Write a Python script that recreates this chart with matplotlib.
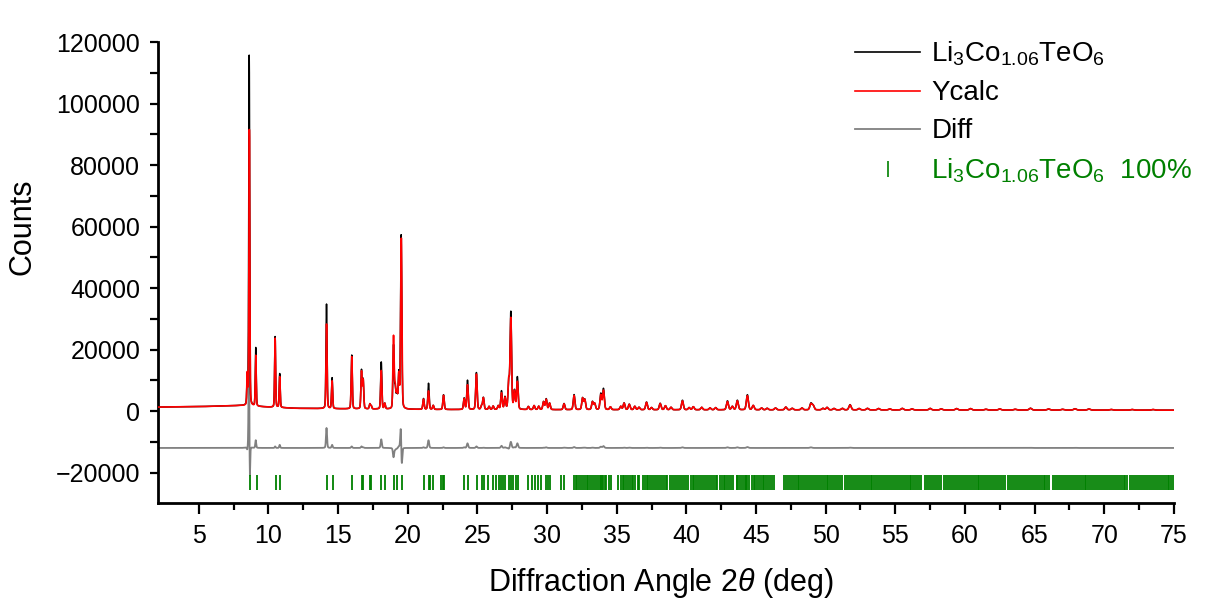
import numpy as np
import matplotlib
matplotlib.use("Agg")
import matplotlib.pyplot as plt
from matplotlib.lines import Line2D

plt.rcParams['font.family'] = ['Liberation Sans', 'DejaVu Sans']
plt.rcParams['mathtext.fontset'] = 'custom'
plt.rcParams['mathtext.rm'] = 'Liberation Sans'
plt.rcParams['mathtext.it'] = 'Liberation Sans:italic'

peak_pos = [8.48, 8.62, 9.09, 10.48, 10.81, 14.17, 14.57, 15.98, 16.68, 16.80,
            17.28, 17.38, 18.10, 18.35, 18.98, 19.10, 19.22, 19.36, 19.53, 21.13,
            21.49, 21.83, 22.57, 24.05, 24.29, 24.93, 25.30, 25.43, 25.84, 26.13,
            26.50, 26.73, 26.98, 27.25, 27.40, 27.66, 27.87, 28.66, 29.07, 29.40,
            29.75, 29.94, 30.18, 31.22, 31.94, 32.55, 32.71, 33.26, 33.42, 33.86,
            34.05, 34.55, 35.29, 35.53, 35.90, 36.30, 36.60, 37.14, 37.50, 38.12,
            38.50, 38.90, 39.72, 40.20, 40.50, 41.10, 41.70, 42.10, 42.95, 43.30,
            43.66, 44.38, 44.80, 45.40, 45.80, 46.40, 47.14, 47.60, 48.30, 48.94,
            49.10, 49.80, 50.10, 50.60, 51.20, 51.75, 52.40, 53.00, 53.80, 54.60,
            55.50, 56.20, 57.50, 58.30, 59.40, 60.40, 61.50, 62.50, 63.60, 64.70,
            66.00, 67.00, 67.90, 68.90, 70.50, 72.00, 73.50]
obs_height = [9000, 114000, 19000, 23000, 11000, 34000, 10000, 17500, 12500, 9500,
              1600, 1000, 15300, 1800, 20500, 6500, 5000, 11500, 56500, 3500,
              8500, 1300, 4800, 3700, 9500, 12000, 1200, 3900, 1000, 1100,
              1200, 6000, 4000, 9000, 31500, 6000, 10500, 1000, 1300, 1100,
              2600, 3500, 2100, 2000, 4900, 3800, 3300, 2600, 2000, 5200,
              6800, 900, 1100, 2200, 1800, 1100, 800, 2500, 700, 2100,
              1300, 800, 3100, 700, 1000, 800, 600, 700, 2900, 1100,
              3100, 4900, 1400, 600, 500, 600, 900, 500, 600, 2100,
              1400, 500, 800, 450, 500, 1700, 450, 500, 450, 350,
              500, 350, 500, 350, 450, 450, 250, 350, 250, 600,
              350, 250, 450, 350, 200, 200, 200]
calc_height = [10000, 90000, 16500, 22500, 10000, 27500, 9000, 17000, 12000, 9300,
               1600, 1000, 12500, 1800, 23500, 7000, 5200, 11000, 55500, 3300,
               6000, 1300, 4600, 3500, 8000, 11500, 1200, 3800, 1000, 1100,
               1200, 5300, 3800, 9300, 29500, 5800, 9000, 1000, 1300, 1100,
               2500, 3300, 2100, 1900, 4600, 3700, 3200, 2500, 2000, 4800,
               6200, 900, 1100, 2100, 1700, 1100, 800, 2400, 700, 2000,
               1300, 800, 2900, 700, 1000, 800, 600, 700, 2700, 1100,
               2900, 4600, 1400, 600, 500, 600, 900, 500, 600, 1900,
               1400, 500, 800, 450, 500, 1600, 450, 500, 450, 350,
               500, 350, 500, 350, 450, 450, 250, 350, 250, 550,
               350, 250, 400, 350, 200, 200, 200]
# calculated peaks sitting slightly off the observed ones
calc_shift = {8.62: 0.012, 19.53: 0.0075}

bg_pos = [2, 5, 8, 10, 12, 16, 22, 30, 45, 60, 75]
bg_counts = [1300, 1450, 1800, 1300, 900, 700, 500, 450, 400, 350, 300]

diff_offset = -12000

# reflection markers
tick_pos = [8.66, 9.16, 10.53, 10.82, 14.19, 14.60, 15.98, 16.70, 16.79, 17.29, 17.39,
            18.07, 18.35, 19.03, 19.20, 19.56, 21.14, 21.50, 21.60, 21.83, 22.39, 22.51,
            22.62, 24.05, 24.34, 24.94, 25.30, 25.44, 25.73, 26.13, 26.32, 26.52, 26.68,
            26.87, 26.96, 27.25, 27.39, 27.58, 27.75, 27.91, 28.66, 28.90, 29.12, 29.35,
            29.58, 29.92, 30.05, 30.18, 31.02, 31.25,
            31.92, 32.05, 32.18, 32.30, 32.45, 32.55, 32.71, 32.85, 32.97, 33.10, 33.26,
            33.40, 33.52, 33.65, 33.78, 33.86, 33.98, 34.05, 34.18, 34.26, 34.48, 34.58,
            35.12, 35.29, 35.42, 35.53, 35.68, 35.80, 35.93, 36.08, 36.20, 36.33, 36.50,
            36.62, 36.92, 37.05, 37.14, 37.28, 37.40, 37.55, 37.68, 37.82, 37.95, 38.12,
            38.25, 38.40, 38.52, 38.62, 38.86, 38.98, 39.12, 39.25, 39.40, 39.55, 39.72,
            39.85, 39.98, 40.10, 40.32, 40.45, 40.58, 40.72, 40.85, 41.00, 41.12, 41.28,
            41.40, 41.55, 41.70, 41.83, 41.98, 42.10, 42.22, 42.42, 42.55, 42.68, 42.80,
            42.95, 43.08, 43.20, 43.35, 43.60, 43.66, 43.78, 43.92, 44.05, 44.18, 44.30,
            44.38, 44.50, 44.70, 44.82, 44.95, 45.08, 45.20, 45.35, 45.48, 45.60, 45.75,
            45.88, 46.02, 46.15, 46.30,
            47.00, 47.14, 47.28, 47.42, 47.55, 47.70, 47.84, 47.98, 48.12, 48.26, 48.40,
            48.55, 48.68, 48.82, 48.94, 49.08, 49.22, 49.36, 49.50, 49.64, 49.78, 49.92,
            50.06, 50.20, 50.34, 50.48, 50.62, 50.76, 50.90, 51.04, 51.16, 51.40, 51.54,
            51.68, 51.82, 51.96, 52.10, 52.24, 52.38, 52.52, 52.66, 52.80, 52.94, 53.08,
            53.22, 53.36, 53.50, 53.64, 53.78, 53.92, 54.06, 54.20, 54.34, 54.48, 54.62,
            54.76, 54.90, 55.04, 55.18, 55.32, 55.46, 55.60, 55.74, 55.88, 56.02, 56.16,
            56.30, 56.44, 56.58, 56.72, 56.86, 57.14, 57.28, 57.42, 57.56, 57.70, 57.84,
            57.98, 58.12, 58.26, 58.52, 58.66, 58.80, 58.94, 59.08, 59.22, 59.36, 59.50,
            59.64, 59.78, 59.92, 60.06, 60.20, 60.34, 60.48, 60.62, 60.76, 60.90, 61.04,
            61.18, 61.32, 61.46, 61.60, 61.74, 61.88, 62.02, 62.16, 62.30, 62.44, 62.58,
            62.72, 62.86, 63.12, 63.26, 63.40, 63.54, 63.68, 63.82, 63.96, 64.10, 64.24,
            64.38, 64.52, 64.66, 64.80, 64.94, 65.08, 65.22, 65.36, 65.50, 65.64, 65.78,
            65.92, 66.06, 66.34, 66.48, 66.62, 66.76, 66.90, 67.04, 67.18, 67.32, 67.46,
            67.60, 67.74, 67.88, 68.02, 68.16, 68.30, 68.44, 68.58, 68.72, 68.86, 69.00,
            69.14, 69.28, 69.42, 69.56, 69.70, 69.84, 69.98, 70.12, 70.26, 70.40, 70.54,
            70.68, 70.82, 70.96, 71.10, 71.24, 71.38, 71.52, 71.64, 71.88, 72.02, 72.16,
            72.30, 72.44, 72.58, 72.72, 72.86, 73.00, 73.14, 73.28, 73.42, 73.56, 73.70,
            73.84, 73.98, 74.12, 74.26, 74.40, 74.54, 74.68, 74.82, 74.96]
tick_lo, tick_hi = -25700, -20800

x_ticks = [5, 10, 15, 20, 25, 30, 35, 40, 45, 50, 55, 60, 65, 70, 75]
y_ticks = [-20000, 0, 20000, 40000, 60000, 80000, 100000, 120000]

phase = 'Li$_3$Co$_{1.06}$TeO$_6$'


def pattern(tth, pos, heights, shift=None):
    out = np.interp(tth, bg_pos, bg_counts)
    for p, h in zip(pos, heights):
        c = p + (shift or {}).get(p, 0.0)
        fw = 0.055 + 0.0025 * p
        d = (tth - c) / fw
        out += h * (0.78 * np.exp(-4 * np.log(2) * d ** 2) + 0.22 / (1 + 4 * d ** 2))
    return out


tth = np.arange(2.0, 75.0001, 0.01)
y_obs = pattern(tth, peak_pos, obs_height)
y_calc = pattern(tth, peak_pos, calc_height, calc_shift)
y_diff = y_obs - y_calc + diff_offset

fig = plt.figure(figsize=(12.09, 6.13), dpi=100)
ax = fig.add_axes([0.131, 0.179, 0.840, 0.752])

ax.plot(tth, y_diff, color='#808080', lw=1.3, zorder=1)
ax.plot(tth, y_obs, color='black', lw=1.1, zorder=2)
ax.plot(tth, y_calc, color='#ff0000', lw=1.2, zorder=3)
ax.vlines(tick_pos, tick_lo, tick_hi, color='#008000', lw=1.3, zorder=2)

ax.set_xlim(2.1, 75)
ax.set_ylim(-30000, 120000)
ax.set_xticks(x_ticks)
ax.set_xticks(np.array(x_ticks[:-1]) + 2.5, minor=True)
ax.set_yticks(y_ticks)
ax.set_yticks(np.array(y_ticks[:-1]) + 10000, minor=True)

for s in ['top', 'right']:
    ax.spines[s].set_visible(False)
for s in ['left', 'bottom']:
    ax.spines[s].set_linewidth(2)
ax.tick_params(which='major', direction='out', length=8, width=1.6, labelsize=18, pad=7)
ax.tick_params(which='minor', direction='out', length=5, width=1.6)
ax.tick_params(axis='y', which='both', length=6)

ax.set_xlabel(r'Diffraction Angle 2$\mathit{\theta}$ (deg)', fontsize=22)
ax.xaxis.set_label_coords(0.495, -0.137)
ax.set_ylabel('Counts', fontsize=22)
ax.yaxis.set_label_coords(-0.119, 0.6)

h_obs = Line2D([], [], color='black', lw=1.2)
h_calc = Line2D([], [], color='#ff0000', lw=1.2)
h_diff = Line2D([], [], color='#808080', lw=1.3)
h_tick = Line2D([], [], color='#008000', marker='|', markersize=12, lw=0, markeredgewidth=1.2)
leg = ax.legend([h_obs, h_calc, h_diff, h_tick],
                [phase, 'Ycalc', 'Diff', phase + '  100%'],
                loc='upper left', bbox_to_anchor=(0.686, 1.005), frameon=False,
                fontsize=20, handlelength=2.35, handletextpad=0.4, labelspacing=0.43,
                borderpad=0, borderaxespad=0)
leg.get_texts()[3].set_color('#008000')

fig.savefig('out.png', dpi=100)
